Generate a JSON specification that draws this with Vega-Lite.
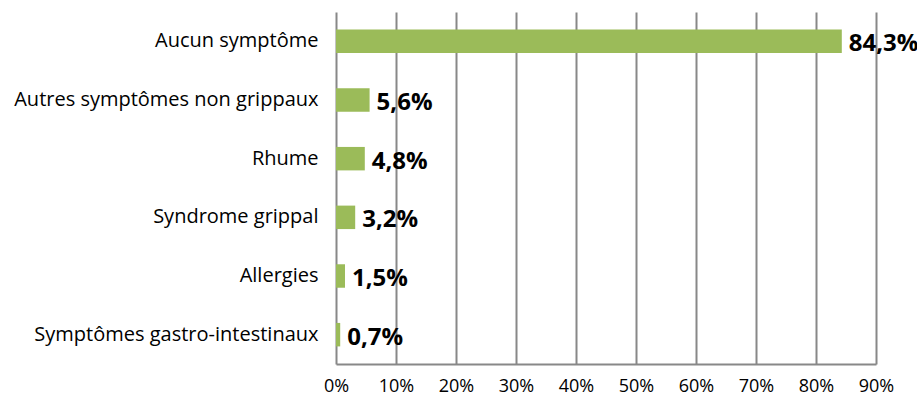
{
  "$schema": "https://vega.github.io/schema/vega-lite/v6.json",
  "autosize": {"type": "none"},
  "width": 540,
  "height": 352,
  "padding": {"left": 336, "top": 12, "right": 41, "bottom": 37},
  "background": "white",
  "config": {
    "locale": {"number": {"decimal": ",", "thousands": " ", "grouping": [3], "currency": ["", " €"]}},
    "view": {"stroke": null},
    "font": "Open Sans"
  },
  "data": {"values": [
    {"cat": "Aucun symptôme", "v": 0.843},
    {"cat": "Autres symptômes non grippaux", "v": 0.056},
    {"cat": "Rhume", "v": 0.048},
    {"cat": "Syndrome grippal", "v": 0.032},
    {"cat": "Allergies", "v": 0.015},
    {"cat": "Symptômes gastro-intestinaux", "v": 0.007}
  ]},
  "encoding": {
    "y": {"field": "cat", "type": "nominal", "sort": null,
      "scale": {"paddingInner": 0.6, "paddingOuter": 0.3},
      "axis": {"title": null, "ticks": false, "domain": false, "labelFontSize": 20, "labelColor": "#000", "labelPadding": 18, "labelLimit": 400, "labelFont": "Open Sans"}},
    "x": {"field": "v", "type": "quantitative",
      "scale": {"domain": [0, 0.9], "nice": false},
      "axis": {"title": null, "format": ".0%", "values": [0,0.1,0.2,0.3,0.4,0.5,0.6,0.7,0.8,0.9], "labelOverlap": false, "ticks": false, "grid": true, "gridColor": "#888888", "gridWidth": 2, "domainColor": "#888888", "domainWidth": 2, "labelFontSize": 18, "labelColor": "#000", "labelPadding": 13, "labelFont": "Open Sans", "labelFlush": false}}
  },
  "layer": [
    {"mark": {"type": "bar", "color": "#9BBB59"}},
    {"mark": {"type": "text", "align": "left", "dx": 7, "dy": 3, "fontSize": 24, "fontWeight": "bold", "color": "#000"},
     "encoding": {"text": {"field": "v", "type": "quantitative", "format": ".1%"}}}
  ]
}
